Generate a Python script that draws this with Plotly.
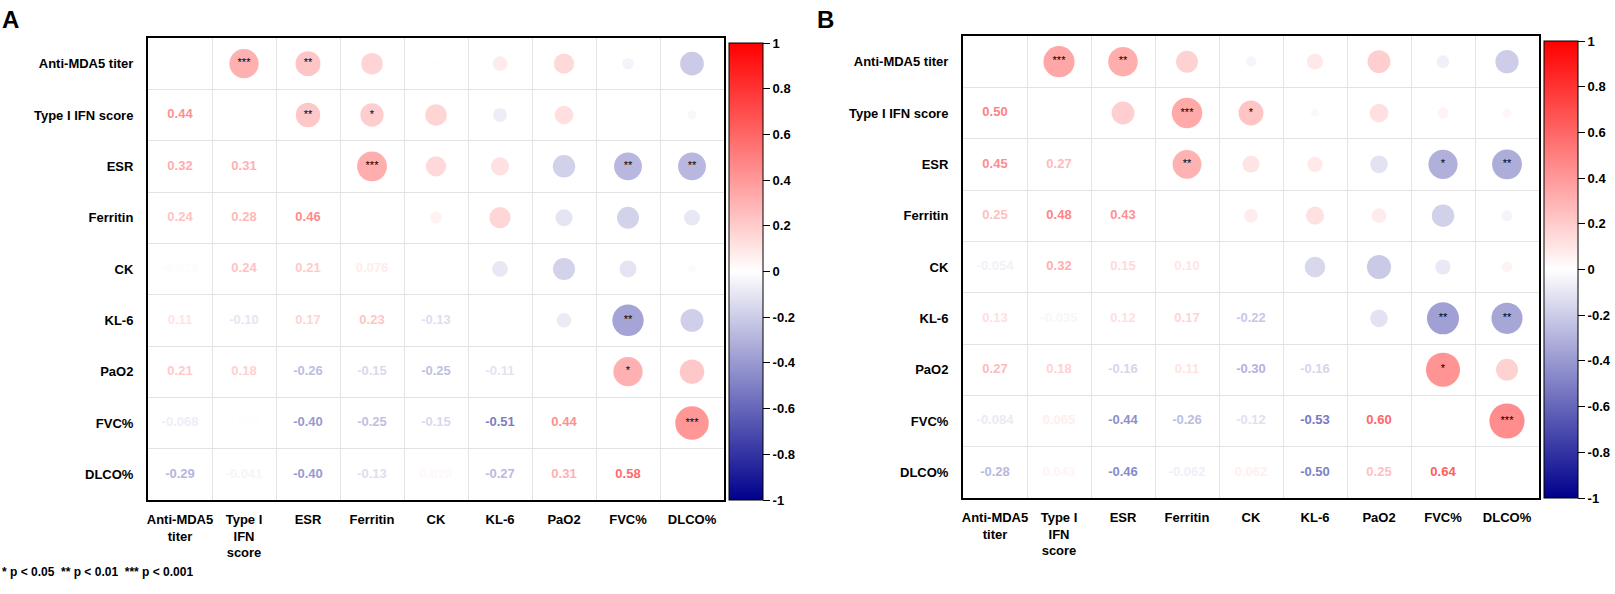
import math
import plotly.graph_objects as go
from plotly.colors import sample_colorscale

W, H = 1615, 594

labels = ["Anti-MDA5 titer", "Type I IFN score", "ESR", "Ferritin", "CK", "KL-6", "PaO2", "FVC%", "DLCO%"]
x_labels = ["Anti-MDA5<br>titer", "Type I<br>IFN<br>score", "ESR", "Ferritin", "CK", "KL-6", "PaO2", "FVC%", "DLCO%"]

# lower triangle, row i holds r with columns 0..i-1
a_r = [
    [],
    [0.44],
    [0.32, 0.31],
    [0.24, 0.28, 0.46],
    [-0.012, 0.24, 0.21, 0.076],
    [0.11, -0.10, 0.17, 0.23, -0.13],
    [0.21, 0.18, -0.26, -0.15, -0.25, -0.11],
    [-0.068, 0.004, -0.40, -0.25, -0.15, -0.51, 0.44],
    [-0.29, -0.041, -0.40, -0.13, 0.029, -0.27, 0.31, 0.58],
]
a_stars = [
    [],
    ["***"],
    ["**", "**"],
    ["", "*", "***"],
    ["", "", "", ""],
    ["", "", "", "", ""],
    ["", "", "", "", "", ""],
    ["", "", "**", "", "", "**", "*"],
    ["", "", "**", "", "", "", "", "***"],
]

b_r = [
    [],
    [0.50],
    [0.45, 0.27],
    [0.25, 0.48, 0.43],
    [-0.054, 0.32, 0.15, 0.10],
    [0.13, -0.035, 0.12, 0.17, -0.22],
    [0.27, 0.18, -0.16, 0.11, -0.30, -0.16],
    [-0.084, 0.065, -0.44, -0.26, -0.12, -0.53, 0.60],
    [-0.28, 0.043, -0.46, -0.062, 0.062, -0.50, 0.25, 0.64],
]
b_stars = [
    [],
    ["***"],
    ["**", ""],
    ["", "***", "**"],
    ["", "*", "", ""],
    ["", "", "", "", ""],
    ["", "", "", "", "", ""],
    ["", "", "*", "", "", "**", "*"],
    ["", "", "**", "", "", "**", "", "***"],
]

cscale = [[0, "rgb(0,0,140)"], [0.5, "rgb(255,255,255)"], [1, "rgb(255,0,0)"]]
FONT = "Liberation Sans, Arial, sans-serif"


def fmt(v):
    if abs(v) >= 0.1:
        return "%.2f" % v
    return "%.2g" % v


def col(v):
    return sample_colorscale(cscale, [(v + 1) / 2])[0]


# panel box in pixels: left, right, top, bottom ; colorbar left ; letter x
panels = [
    (a_r, a_stars, (148, 724, 38, 500), 729, "A", 0),
    (b_r, b_stars, (963, 1539, 36, 498), 1544, "B", 815),
]

fig = go.Figure()
annotations = []

for k, (r, stars, box, cb_x, letter, lx) in enumerate(panels):
    sfx = "" if k == 0 else str(k + 1)
    xa, ya = "x" + sfx, "y" + sfx
    n = len(labels)

    cx, cy, cv, cs = [], [], [], []
    tx, ty, tt, tc = [], [], [], []
    for i in range(n):
        for j in range(i):
            v = r[i][j]
            # lower triangle: numbers
            tx.append(j + 0.5); ty.append(i + 0.5)
            tt.append("<b>" + fmt(v) + "</b>"); tc.append(col(v))
            # upper triangle: circles
            cx.append(i + 0.5); cy.append(j + 0.5)
            cv.append(v); cs.append(stars[i][j])

    fig.add_trace(go.Scatter(
        x=cx, y=cy, mode="markers+text", text=cs, textposition="middle center",
        textfont=dict(size=11, color="black", family=FONT),
        marker=dict(size=[44 * math.sqrt(abs(v)) for v in cv], color=cv, colorscale=cscale,
                    cmin=-1, cmax=1, line=dict(width=0),
                    colorbar=dict(x=cb_x / W, xanchor="left", y=1 - (box[2] + 5) / H, yanchor="top",
                                  len=(box[3] - box[2] - 5) / H, lenmode="fraction", thickness=34,
                                  outlinecolor="black", outlinewidth=1, xpad=0, ypad=0,
                                  tickvals=[-1, -0.8, -0.6, -0.4, -0.2, 0, 0.2, 0.4, 0.6, 0.8, 1],
                                  ticktext=["-1", "-0.8", "-0.6", "-0.4", "-0.2", "0", "0.2", "0.4", "0.6", "0.8", "1"],
                                  ticks="outside", ticklen=7, tickcolor="black",
                                  tickfont=dict(size=13, family=FONT, color="black", weight="bold"))),
        hoverinfo="skip", showlegend=False, xaxis=xa, yaxis=ya))
    fig.add_trace(go.Scatter(
        x=tx, y=ty, mode="text", text=tt, textfont=dict(size=13, color=tc, family=FONT),
        hoverinfo="skip", showlegend=False, xaxis=xa, yaxis=ya))

    axis_common = dict(showline=True, mirror=True, linecolor="black", linewidth=2,
                       zeroline=False, showgrid=False, ticks="",
                       tickfont=dict(size=13, family=FONT, color="black", weight="bold"),
                       minor=dict(tickvals=list(range(1, n)), showgrid=True, gridcolor="#e3e3e3", gridwidth=1))
    fig.layout["xaxis" + sfx] = dict(axis_common, domain=[box[0] / W, box[1] / W], range=[0, n],
                                     tickvals=[i + 0.5 for i in range(n)], ticktext=x_labels,
                                     anchor=ya, ticklabelstandoff=6, tickangle=0)
    fig.layout["yaxis" + sfx] = dict(axis_common, domain=[1 - box[3] / H, 1 - box[2] / H], range=[n, 0],
                                     tickvals=[i + 0.5 for i in range(n)], ticktext=labels,
                                     anchor=xa, ticklabelstandoff=10)

    annotations.append(dict(text="<b>" + letter + "</b>", x=lx / W, y=1 - 4 / H, xref="paper", yref="paper",
                            xanchor="left", yanchor="top", showarrow=False,
                            font=dict(size=24, family=FONT, color="black")))

annotations.append(dict(text="<b>* p < 0.05  ** p < 0.01  *** p < 0.001</b>", x=0, y=1 - 572 / H,
                        xref="paper", yref="paper", xanchor="left", yanchor="middle", showarrow=False,
                        font=dict(size=12, family=FONT, color="black")))

fig.update_layout(width=W, height=H, margin=dict(l=0, r=0, t=0, b=0),
                  plot_bgcolor="white", paper_bgcolor="white", annotations=annotations)

# page has a default body margin; drop it so the figure fills the window
fig.write_html("out.html", config={"displayModeBar": False},
               post_script="document.body.style.margin='0px';")
